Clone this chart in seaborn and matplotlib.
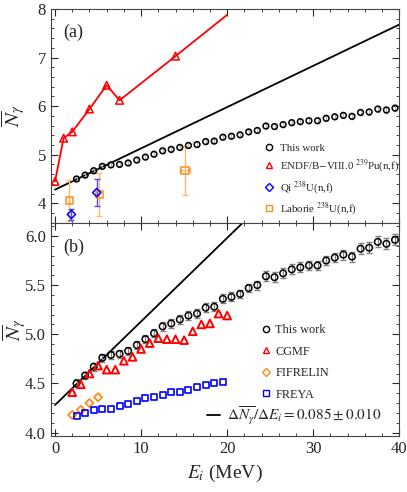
import numpy as np
import pandas as pd
import matplotlib
matplotlib.use("Agg")
import matplotlib.pyplot as plt
from matplotlib.lines import Line2D
from matplotlib.ticker import MultipleLocator, FormatStrFormatter
import seaborn as sns

# ---- data ----
e_work = [2.5, 3.5, 4.5, 5.5, 6.5, 7.5, 8.5, 9.5, 10.5, 11.5, 12.5, 13.5, 14.5, 15.5,
          16.5, 17.5, 18.5, 19.5, 20.5, 21.5, 22.5, 23.5, 24.5, 25.5, 26.5, 27.5, 28.5,
          29.5, 30.5, 31.5, 32.5, 33.5, 34.5, 35.5, 36.5, 37.5, 38.5, 39.5]
n_work = [4.50, 4.58, 4.67, 4.76, 4.79, 4.80, 4.83, 4.89, 4.95, 5.01, 5.08, 5.11, 5.15, 5.19,
          5.21, 5.27, 5.28, 5.36, 5.38, 5.41, 5.47, 5.50, 5.59, 5.58, 5.62, 5.66, 5.68,
          5.70, 5.70, 5.75, 5.78, 5.81, 5.79, 5.87, 5.88, 5.94, 5.92, 5.96]
err_work = [0.04, 0.04, 0.04, 0.04, 0.04, 0.04, 0.04, 0.04, 0.04, 0.04, 0.045, 0.045, 0.045, 0.045,
            0.045, 0.045, 0.045, 0.045, 0.045, 0.045, 0.045, 0.045, 0.05, 0.05, 0.05, 0.05, 0.05,
            0.05, 0.05, 0.05, 0.05, 0.05, 0.05, 0.055, 0.055, 0.055, 0.055, 0.055]

e_endf = [0, 1, 2, 4, 6, 7.5, 14, 20]
n_endf = [4.45, 5.34, 5.47, 5.94, 6.43, 6.12, 7.03, 7.88]

e_qi = [1.9, 4.85]
n_qi = [3.77, 4.22]
err_qi = [0.11, 0.27]

e_lab = [1.65, 5.15, 15.1]
n_lab = [4.06, 4.18, 4.68]
err_lab = [0.42, 0.45, 0.50]
xerr_lab = [0.0, 0.0, 0.6]

e_cgmf = [2, 3, 4, 5, 6, 7, 8, 9, 10, 11, 12, 13, 14, 15, 16, 17, 18, 19, 20]
n_cgmf = [4.41, 4.49, 4.60, 4.68, 4.64, 4.64, 4.73, 4.77, 4.85, 4.91, 4.96, 4.95, 4.95,
          4.94, 5.03, 5.10, 5.11, 5.21, 5.19]

e_fif = [2, 3, 4, 5]
n_fif = [4.18, 4.23, 4.30, 4.36]

e_freya = [2.5, 3.5, 4.5, 5.5, 6.5, 7.5, 8.5, 9.5, 10.5, 11.5, 12.5, 13.5, 14.5, 15.5,
           16.5, 17.5, 18.5, 19.5]
n_freya = [4.17, 4.20, 4.23, 4.24, 4.24, 4.27, 4.29, 4.32, 4.35, 4.36, 4.38, 4.41, 4.41,
           4.43, 4.46, 4.48, 4.50, 4.51]

fit_slope = 0.085
fit_icpt = 4.28

sns.set_style("ticks")
plt.rcParams['font.family'] = ['Liberation Serif', 'DejaVu Serif']
plt.rcParams['mathtext.fontset'] = 'stix'

ORANGE = '#ff8c1a'

fig = plt.figure(figsize=(4.07, 4.92), dpi=100)
ax1 = fig.add_axes([0.1246, 0.5474, 0.8565, 0.4343])
ax2 = fig.add_axes([0.1246, 0.1138, 0.8565, 0.4336])

fit_E = np.array([0, 40])
fit = pd.DataFrame({'E': fit_E, 'N': fit_icpt + fit_slope * fit_E})


def hollow(ax, x, y, marker, color, size=20, lw=1.1):
    sns.scatterplot(x=x, y=y, ax=ax, marker=marker, s=size, facecolors='none',
                    edgecolor=color, linewidth=lw, zorder=4, legend=False)


# ---- panel (a) ----
sns.lineplot(data=fit, x='E', y='N', ax=ax1, color='black', lw=1.3)
ax1.errorbar(e_work, n_work, yerr=err_work, fmt='none', ecolor='#b0b0b0', elinewidth=0.7,
             capsize=1.2, zorder=2)
hollow(ax1, e_work, n_work, 'o', 'black', size=17)
sns.lineplot(x=e_endf, y=n_endf, ax=ax1, color='red', lw=1.3, sort=False)
hollow(ax1, e_endf[:-1], n_endf[:-1], '^', 'red', size=30)
ax1.errorbar(e_lab, n_lab, yerr=err_lab, xerr=xerr_lab, fmt='none', ecolor='#ffb870',
             elinewidth=1.0, capsize=2.5, zorder=3)
hollow(ax1, e_lab, n_lab, 's', ORANGE, size=26)
ax1.errorbar(e_qi, n_qi, yerr=err_qi, fmt='none', ecolor='#4a4aff', elinewidth=1.0,
             capsize=2.5, zorder=3)
hollow(ax1, e_qi, n_qi, 'D', 'blue', size=18)

ax1.set_xlim(-0.5, 40)
ax1.set_ylim(3.6, 8)
ax1.xaxis.set_major_locator(MultipleLocator(10))
ax1.xaxis.set_minor_locator(MultipleLocator(2))
ax1.yaxis.set_major_locator(MultipleLocator(1))
ax1.yaxis.set_minor_locator(MultipleLocator(0.2))
ax1.tick_params(labelbottom=False)
ax1.set_xlabel('')
ax1.set_ylabel(r'$\overline{N}_\gamma$', fontsize=15)
ax1.yaxis.set_label_coords(-0.065, 0.5)
ax1.text(0.035, 0.89, '(a)', transform=ax1.transAxes, fontsize=13, va='center')

h1 = [Line2D([], [], ls='', marker='o', mfc='none', mec='black', ms=4.5),
      Line2D([], [], ls='', marker='^', mfc='none', mec='red', ms=5),
      Line2D([], [], ls='', marker='D', mfc='none', mec='blue', ms=4),
      Line2D([], [], ls='', marker='s', mfc='none', mec=ORANGE, ms=4.5)]
l1 = ['This work', r'ENDF/B$-$VIII.0 $^{239}$Pu(n,f)', r'Qi $^{238}$U(n,f)',
      r'Laborie $^{238}$U(n,f)']
ax1.legend(h1, l1, loc='upper left', frameon=False, fontsize=7.8, handlelength=1.0,
           handletextpad=0.5, labelspacing=0.45, borderpad=0, borderaxespad=0,
           bbox_to_anchor=(0.612, 0.372))

# ---- panel (b) ----
sns.lineplot(data=fit, x='E', y='N', ax=ax2, color='black', lw=1.3)
ax2.errorbar(e_work, n_work, yerr=err_work, fmt='none', ecolor='#808080', elinewidth=0.9,
             capsize=2.2, zorder=2)
hollow(ax2, e_work, n_work, 'o', 'black', size=22)
hollow(ax2, e_cgmf, n_cgmf, '^', 'red', size=30, lw=1.4)
hollow(ax2, e_fif, n_fif, 'D', ORANGE, size=17, lw=1.3)
hollow(ax2, e_freya, n_freya, 's', 'blue', size=19, lw=1.2)

ax2.set_xlim(-0.5, 40)
ax2.set_ylim(3.965, 6.135)
ax2.xaxis.set_major_locator(MultipleLocator(10))
ax2.xaxis.set_minor_locator(MultipleLocator(2))
ax2.yaxis.set_major_locator(MultipleLocator(0.5))
ax2.yaxis.set_minor_locator(MultipleLocator(0.1))
ax2.yaxis.set_major_formatter(FormatStrFormatter('%.1f'))
ax2.set_xlabel(r'$E_i$ (MeV)', fontsize=14)
ax2.set_ylabel(r'$\overline{N}_\gamma$', fontsize=15)
ax2.yaxis.set_label_coords(-0.062, 0.5)
ax2.text(0.035, 0.886, '(b)', transform=ax2.transAxes, fontsize=13, va='center')

h2 = [Line2D([], [], ls='', marker='o', mfc='none', mec='black', ms=4.5),
      Line2D([], [], ls='', marker='^', mfc='none', mec='red', ms=5),
      Line2D([], [], ls='', marker='D', mfc='none', mec=ORANGE, ms=4),
      Line2D([], [], ls='', marker='s', mfc='none', mec='blue', ms=4.5)]
leg2 = ax2.legend(h2, ['This work', 'CGMF', 'FIFRELIN', 'FREYA'], loc='upper left',
                  frameon=False, fontsize=8.8, handlelength=0.8, handletextpad=0.38,
                  labelspacing=0.78, borderpad=0, borderaxespad=0,
                  bbox_to_anchor=(0.603, 0.525))
ax2.add_artist(leg2)
ax2.legend([Line2D([], [], color='black', lw=1.3)],
           [r'$\Delta\overline{N_\gamma}/\Delta E_i = 0.085 \pm 0.010$'],
           loc='lower right', frameon=False, fontsize=11, handlelength=0.85,
           handletextpad=0.46, borderpad=0, borderaxespad=0,
           bbox_to_anchor=(0.9475, 0.043))

for ax in (ax1, ax2):
    ax.tick_params(which='both', direction='in', top=True, right=True, labelsize=12)
    ax.tick_params(which='major', length=5, width=0.8)
    ax.tick_params(which='minor', length=2.5, width=0.6)
    for sp in ax.spines.values():
        sp.set_linewidth(0.8)
        sp.set_color('#444444')

fig.savefig('out.png', dpi=100)
